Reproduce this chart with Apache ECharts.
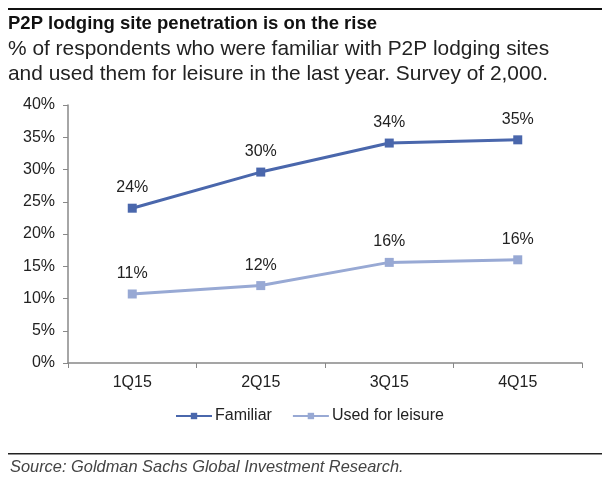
<!DOCTYPE html>
<html><head><meta charset="utf-8">
<script src="https://cdn.jsdelivr.net/npm/echarts@6/dist/echarts.min.js"></script>
<style>html,body{margin:0;padding:0;background:#fff}#c{width:602px;height:477px}</style>
</head><body><div id="c"></div>
<script>
const categories = ['1Q15', '2Q15', '3Q15', '4Q15'];
const familiar = [24.0, 29.6, 34.1, 34.6];
const leisure = [10.7, 12.0, 15.6, 16.0];
const familiarLabels = ['24%', '30%', '34%', '35%'];
const leisureLabels = ['11%', '12%', '16%', '16%'];
const yTicks = [0, 5, 10, 15, 20, 25, 30, 35, 40];

const chart = echarts.init(document.getElementById('c'), null, {renderer: 'canvas'});
const font = '"Liberation Sans", Arial, sans-serif';
chart.setOption({
  animation: false,
  textStyle: {fontFamily: font},
  title: [
    {
      text: 'P2P lodging site penetration is on the rise',
      left: 3, top: 9,
      textStyle: {fontFamily: font, fontSize: 18.5, fontWeight: 'bold', color: '#111'}
    },
    {
      text: '% of respondents who were familiar with P2P lodging sites\nand used them for leisure in the last year. Survey of 2,000.',
      left: 3, top: 31,
      textStyle: {fontFamily: font, fontSize: 20.9, fontWeight: 'normal', color: '#222', lineHeight: 25.5}
    }
  ],
  graphic: [
    {type: 'rect', shape: {x: 8, y: 8, width: 594, height: 2}, style: {fill: '#111'}},
    {type: 'rect', shape: {x: 8, y: 453, width: 594, height: 1.5}, style: {fill: '#222'}},
    {type: 'text', left: 10, top: 459, style: {text: 'Source: Goldman Sachs Global Investment Research.', font: 'italic 16.4px "Liberation Sans", Arial, sans-serif', fill: '#444'}}
  ],
  legend: {
    data: ['Familiar', 'Used for leisure'],
    top: 403, left: 170,
    itemWidth: 36, itemHeight: 8, itemGap: 20,
    textStyle: {fontFamily: font, fontSize: 16, color: '#222', padding: [0, 0, 0, -2]}
  },
  grid: {left: 68, top: 105, right: 20, bottom: 114, containLabel: false},
  xAxis: {
    type: 'category', data: categories, boundaryGap: true,
    axisLine: {lineStyle: {color: '#888', width: 1.5}},
    axisTick: {show: true, length: 5, lineStyle: {color: '#888'}},
    axisLabel: {fontSize: 16, color: '#222', margin: 12, fontFamily: font}
  },
  yAxis: {
    type: 'value', min: 0, max: 40, interval: 5,
    axisLine: {show: true, lineStyle: {color: '#888', width: 1.5}},
    axisTick: {show: true, length: 5, lineStyle: {color: '#888'}},
    splitLine: {show: false},
    axisLabel: {fontSize: 16, color: '#222', margin: 13, fontFamily: font, formatter: v => yTicks.includes(v) ? v + '%' : ''}
  },
  series: [
    {
      name: 'Familiar', type: 'line', data: familiar,
      symbol: 'rect', symbolSize: 9,
      lineStyle: {color: '#4a67ac', width: 3},
      itemStyle: {color: '#4a67ac'},
      label: {show: true, position: 'top', distance: 8, fontSize: 16, color: '#222', fontFamily: font,
        formatter: p => familiarLabels[p.dataIndex]}
    },
    {
      name: 'Used for leisure', type: 'line', data: leisure,
      symbol: 'rect', symbolSize: 9,
      lineStyle: {color: '#98a9d4', width: 3},
      itemStyle: {color: '#98a9d4'},
      label: {show: true, position: 'top', distance: 8, fontSize: 16, color: '#222', fontFamily: font,
        formatter: p => leisureLabels[p.dataIndex]}
    }
  ]
});
</script></body></html>
